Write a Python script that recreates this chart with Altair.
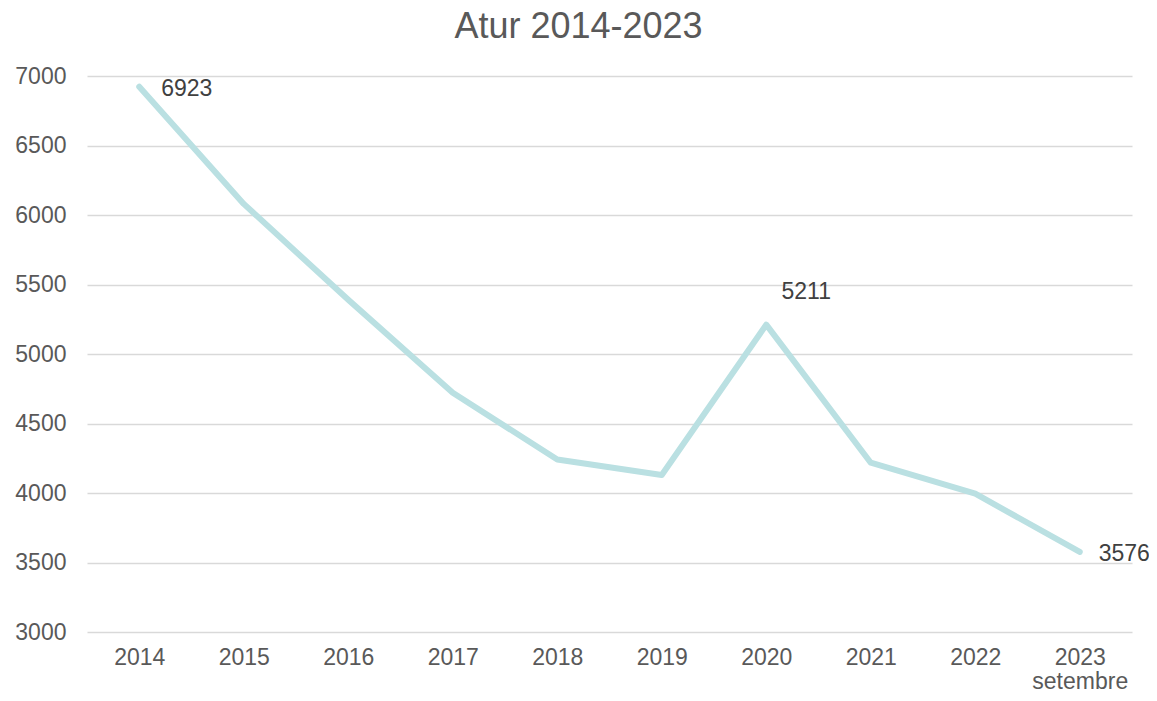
import altair as alt
import pandas as pd

years = ["2014", "2015", "2016", "2017", "2018", "2019", "2020", "2021", "2022", "2023"]
values = [6923, 6080, 5390, 4721, 4241, 4129, 5211, 4218, 3995, 3576]
labelled = ["2014", "2020", "2023"]

df = pd.DataFrame({"year": years, "value": values})

FONT = "Liberation Sans"

x = alt.X("year:O", sort=years, title=None,
          axis=alt.Axis(labelAngle=0, labelFontSize=23, labelColor="#595959", labelFont=FONT,
                        domain=False, ticks=False, labelPadding=14, labelLineHeight=24,
                        labelExpr="datum.label == '2023' ? ['2023', 'setembre'] : datum.label"))
y = alt.Y("value:Q", title=None,
          scale=alt.Scale(domain=[3000, 7000], nice=False, zero=False),
          axis=alt.Axis(values=[3000, 3500, 4000, 4500, 5000, 5500, 6000, 6500, 7000],
                        format="d",
                        labelFontSize=23, labelColor="#595959", labelFont=FONT,
                        domain=False, ticks=False, labelPadding=21,
                        grid=True, gridColor="#d9d9d9", gridWidth=1.5))

base = alt.Chart(df)

line = base.mark_line(color="#bae0e2", strokeWidth=6, strokeCap="round", strokeJoin="round").encode(x=x, y=y)

def lab(year, dx, dy, align):
    return base.transform_filter(alt.datum.year == year).mark_text(
        align=align, baseline="middle", dx=dx, dy=dy, fontSize=23, font=FONT, color="#404040"
    ).encode(x=alt.X("year:O", sort=years), y="value:Q", text="value:Q")

chart = alt.layer(
    line,
    lab("2014", 22, 2, "left"),
    lab("2020", 40, -33, "center"),
    lab("2023", 19, 2, "left"),
).properties(
    width=1045, height=556,
    title=alt.TitleParams("Atur 2014-2023", fontSize=36, font=FONT, color="#595959",
                          fontWeight="normal", anchor="middle", dx=-31, offset=19),
    autosize=alt.AutoSizeParams(type="none"),
    padding={"left": 79, "top": 68, "right": 17, "bottom": 61},
).configure_view(stroke=None)

chart.save("out.html", embed_options={"renderer": "svg", "actions": False})
